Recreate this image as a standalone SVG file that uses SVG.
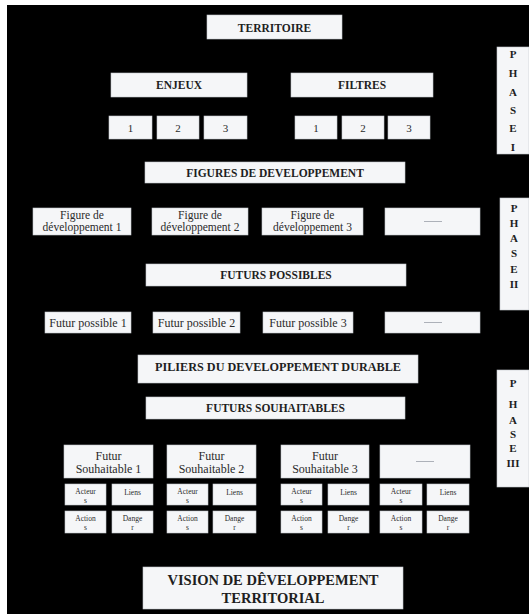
<svg xmlns="http://www.w3.org/2000/svg" width="529" height="614" viewBox="0 0 529 614">
<style>
.b{fill:#f5f6f8;stroke:#c3c8ce;stroke-width:0.6}
.h{font-family:"Liberation Serif","DejaVu Serif",serif;font-weight:bold;fill:#1e1e1e;text-anchor:middle;font-size:11.5px}
.t{font-family:"Liberation Serif","DejaVu Serif",serif;fill:#2a2a2a;text-anchor:middle;font-size:12px}
.f{font-family:"Liberation Serif","DejaVu Serif",serif;fill:#2a2a2a;text-anchor:middle;font-size:11.5px}
.s{font-family:"Liberation Serif","DejaVu Serif",serif;fill:#2a2a2a;text-anchor:middle;font-size:7.5px}
.p{font-family:"Liberation Serif","DejaVu Serif",serif;font-weight:bold;fill:#1e1e1e;text-anchor:middle;font-size:11px}
.d{stroke:#9aa0a8;stroke-width:0.8}
</style>
<rect x="0" y="0" width="529" height="614" fill="#ffffff"/>
<rect x="7" y="5" width="522" height="609" fill="#000000"/>
<g id="territoire"><rect class="b" x="207" y="15" width="135" height="24"/><text class="h" x="274.5" y="31.5">TERRITOIRE</text></g>
<g id="enjeux"><rect class="b" x="111" y="73" width="136" height="24"/><text class="h" x="179" y="89">ENJEUX</text></g>
<g id="filtres"><rect class="b" x="291" y="73" width="142" height="24"/><text class="h" x="362" y="89">FILTRES</text></g>
<g id="enjeu1"><rect class="b" x="109" y="116" width="43" height="23"/><text class="t" x="130.5" y="131.5" style="font-size:11px">1</text></g>
<g id="enjeu2"><rect class="b" x="157" y="116" width="42" height="23"/><text class="t" x="178" y="131.5" style="font-size:11px">2</text></g>
<g id="enjeu3"><rect class="b" x="204" y="116" width="43" height="23"/><text class="t" x="225.5" y="131.5" style="font-size:11px">3</text></g>
<g id="filtre1"><rect class="b" x="295" y="116" width="42" height="23"/><text class="t" x="316" y="131.5" style="font-size:11px">1</text></g>
<g id="filtre2"><rect class="b" x="342" y="116" width="42" height="23"/><text class="t" x="363" y="131.5" style="font-size:11px">2</text></g>
<g id="filtre3"><rect class="b" x="388" y="116" width="42" height="23"/><text class="t" x="409" y="131.5" style="font-size:11px">3</text></g>
<g id="figures"><rect class="b" x="145" y="162" width="260" height="21"/><text class="h" x="275" y="176.7">FIGURES DE DEVELOPPEMENT</text></g>
<g id="fig1"><rect class="b" x="33" y="208" width="98" height="27"/><text class="f" x="82" y="219">Figure de</text><text class="f" x="82" y="231">développement 1</text></g>
<g id="fig2"><rect class="b" x="152" y="208" width="96" height="27"/><text class="f" x="200" y="219">Figure de</text><text class="f" x="200" y="231">développement 2</text></g>
<g id="fig3"><rect class="b" x="262" y="208" width="101" height="27"/><text class="f" x="312.5" y="219">Figure de</text><text class="f" x="312.5" y="231">développement 3</text></g>
<g id="fig4"><rect class="b" x="385" y="208" width="95" height="27"/><line class="d" x1="424" y1="221.5" x2="442" y2="221.5"/></g>
<g id="futurs-possibles"><rect class="b" x="146" y="264" width="260" height="22"/><text class="h" x="276" y="279">FUTURS POSSIBLES</text></g>
<g id="fp1"><rect class="b" x="45" y="312" width="86" height="21"/><text class="t" x="88" y="326.5">Futur possible 1</text></g>
<g id="fp2"><rect class="b" x="153" y="312" width="87" height="21"/><text class="t" x="196.5" y="326.5">Futur possible 2</text></g>
<g id="fp3"><rect class="b" x="263" y="312" width="90" height="21"/><text class="t" x="308" y="326.5">Futur possible 3</text></g>
<g id="fp4"><rect class="b" x="385" y="312" width="95" height="21"/><line class="d" x1="424" y1="322.5" x2="442" y2="322.5"/></g>
<g id="piliers"><rect class="b" x="138" y="355" width="280" height="28"/><text class="h" x="278" y="370.5" style="font-size:12.2px">PILIERS DU DEVELOPPEMENT DURABLE</text></g>
<g id="futurs-souhaitables"><rect class="b" x="146" y="397" width="259" height="22"/><text class="h" x="275.5" y="412.3">FUTURS SOUHAITABLES</text></g>
<g id="fs1"><rect class="b" x="64" y="445" width="89" height="33"/><text class="t" x="108.5" y="460">Futur</text><text class="t" x="108.5" y="472.5">Souhaitable 1</text></g>
<g id="fs2"><rect class="b" x="167" y="445" width="89" height="33"/><text class="t" x="211.5" y="460">Futur</text><text class="t" x="211.5" y="472.5">Souhaitable 2</text></g>
<g id="fs3"><rect class="b" x="281" y="445" width="88" height="33"/><text class="t" x="325" y="460">Futur</text><text class="t" x="325" y="472.5">Souhaitable 3</text></g>
<g id="fs4"><rect class="b" x="380" y="445" width="90" height="33"/><line class="d" x1="416" y1="461.5" x2="434" y2="461.5"/></g>
<g id="a1"><rect class="b" x="65" y="484" width="41" height="21"/><text class="s" x="85.5" y="494">Acteur</text><text class="s" x="85.5" y="502.5">s</text></g>
<g id="l1"><rect class="b" x="112" y="484" width="41" height="21"/><text class="s" x="132.5" y="495">Liens</text></g>
<g id="ac1"><rect class="b" x="65" y="511" width="41" height="22"/><text class="s" x="85.5" y="521">Action</text><text class="s" x="85.5" y="530">s</text></g>
<g id="d1"><rect class="b" x="112" y="511" width="41" height="22"/><text class="s" x="132.5" y="521">Dange</text><text class="s" x="132.5" y="530">r</text></g>
<g id="a2"><rect class="b" x="167" y="484" width="41" height="21"/><text class="s" x="187.5" y="494">Acteur</text><text class="s" x="187.5" y="502.5">s</text></g>
<g id="l2"><rect class="b" x="213" y="484" width="43" height="21"/><text class="s" x="234.5" y="495">Liens</text></g>
<g id="ac2"><rect class="b" x="167" y="511" width="41" height="22"/><text class="s" x="187.5" y="521">Action</text><text class="s" x="187.5" y="530">s</text></g>
<g id="d2"><rect class="b" x="213" y="511" width="43" height="22"/><text class="s" x="234.5" y="521">Dange</text><text class="s" x="234.5" y="530">r</text></g>
<g id="a3"><rect class="b" x="281" y="484" width="41" height="21"/><text class="s" x="301.5" y="494">Acteur</text><text class="s" x="301.5" y="502.5">s</text></g>
<g id="l3"><rect class="b" x="328" y="484" width="41" height="21"/><text class="s" x="348.5" y="495">Liens</text></g>
<g id="ac3"><rect class="b" x="281" y="511" width="41" height="22"/><text class="s" x="301.5" y="521">Action</text><text class="s" x="301.5" y="530">s</text></g>
<g id="d3"><rect class="b" x="328" y="511" width="41" height="22"/><text class="s" x="348.5" y="521">Dange</text><text class="s" x="348.5" y="530">r</text></g>
<g id="a4"><rect class="b" x="380" y="484" width="42" height="21"/><text class="s" x="401" y="494">Acteur</text><text class="s" x="401" y="502.5">s</text></g>
<g id="l4"><rect class="b" x="427" y="484" width="42" height="21"/><text class="s" x="448" y="495">Liens</text></g>
<g id="ac4"><rect class="b" x="380" y="511" width="42" height="22"/><text class="s" x="401" y="521">Action</text><text class="s" x="401" y="530">s</text></g>
<g id="d4"><rect class="b" x="427" y="511" width="42" height="22"/><text class="s" x="448" y="521">Dange</text><text class="s" x="448" y="530">r</text></g>
<g id="vision"><rect class="b" x="143" y="567" width="260" height="42"/><text class="h" x="273" y="585" style="font-size:14.5px">VISION DE DÊVELOPPEMENT</text><text class="h" x="273" y="602.5" style="font-size:14.5px">TERRITORIAL</text></g>
<g id="phase1"><rect class="b" x="497" y="47" width="32" height="107"/><text class="p" x="513"><tspan x="513" y="58">P</tspan><tspan x="513" y="77">H</tspan><tspan x="513" y="96">A</tspan><tspan x="513" y="114">S</tspan><tspan x="513" y="132">E</tspan><tspan x="513" y="151">I</tspan></text></g>
<g id="phase2"><rect class="b" x="500" y="198" width="29" height="112"/><text class="p" x="514"><tspan x="514" y="212">P</tspan><tspan x="514" y="227">H</tspan><tspan x="514" y="242">A</tspan><tspan x="514" y="257">S</tspan><tspan x="514" y="273">E</tspan><tspan x="514" y="288">II</tspan></text></g>
<g id="phase3"><rect class="b" x="497" y="370" width="32" height="117"/><text class="p" x="513"><tspan x="513" y="387">P</tspan><tspan x="513" y="408">H</tspan><tspan x="513" y="424">A</tspan><tspan x="513" y="438">S</tspan><tspan x="513" y="452">E</tspan><tspan x="513" y="467">III</tspan></text></g>
<g id="connectors"></g>
</svg>
